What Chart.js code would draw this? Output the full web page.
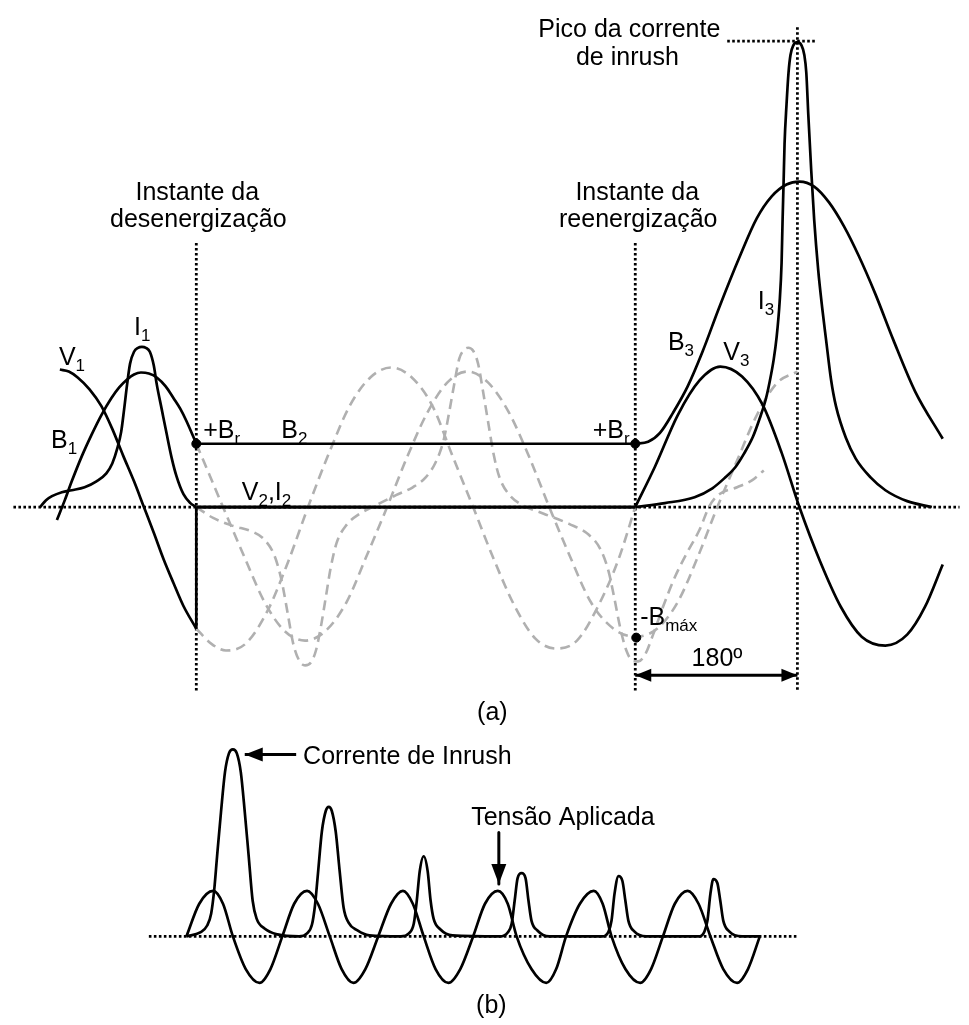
<!DOCTYPE html>
<html>
<head>
<meta charset="utf-8">
<script src="https://cdn.jsdelivr.net/npm/chart.js@4.4.1/dist/chart.umd.min.js"></script>
<style>
  html, body { margin: 0; padding: 0; background: #fff; }
  #wrap { width: 969px; height: 1025px; }
</style>
</head>
<body>
<div id="wrap"><canvas id="inrush" width="969" height="1025"></canvas></div>
<script>
/* ---------------------------------------------------------
   Inrush current sketch: (a) de/re-energization, (b) decay
   Every curve is a list of [x, y] points
   (x to the right, y downward, same units as the drawing).
--------------------------------------------------------- */

/* ---- (a) before de-energization ---- */
const v1 = [[55,368],[64,370],[73,376],[85,388],[97,405],[108,428],[119,455],[130,481],[140,507],
            [150,533],[160,560],[170,584],[180,607],[193,630]];
const b1 = [[52,520],[60,500],[67,481],[77,456],[87,434],[97,414],[107,397],[115,386],[123,378],
            [130,373],[137,371],[145,372],[153,376],[162,385],[170,397],[177,408],[183,420],[193,443]];
const i1 = [[35,507],[41,500],[47,496],[57,492],[67,490],[80,487],[92,481],[102,473],[108,463],
            [113,448],[117,431],[120,408],[123,383],[126,362],[130,350],[134,346],[138,345],[142,346],
            [146,350],[150,364],[153,383],[158,408],[163,433],[168,457],[173,476],[180,494],[187,503],[193,507]];

/* ---- (a) de-energized interval: B2 held at +Br, V2 = I2 = 0 ---- */
const b2   = [[193,443],[637,443]];
const v2i2 = [[193,507],[637,507]];
const vDrop = [[193,630],[193,507]];

/* ---- (a) what the supply would have kept doing (grey dashes) ---- */
const vDash = [[193,630],[208,645],[223,652],[243,645],[265,612],[286,562],[306,507],[327,453],
               [348,405],[369,376],[390,366],[411,376],[432,405],[452,455],[473,507],[494,560],
               [515,607],[536,640],[557,650],[578,642],[599,608],[620,560],[637,507]];
const bDash = [[193,443],[207,476],[220,507],[241,556],[262,603],[282,632],[303,642],[324,632],
               [345,603],[365,557],[386,507],[406,457],[427,411],[447,381],[467,370],[488,381],
               [509,411],[530,457],[550,507],[571,557],[592,603],[615,630],[637,638],[659,630],
               [680,603],[700,558],[720,507],[740,460],[760,414],[780,382],[801,370]];
const iDash = [[193,507],[210,518],[230,526],[250,532],[262,540],[272,556],[279,580],[285,612],
               [291,645],[297,662],[303,667],[309,664],[314,652],[319,628],[324,598],[329,568],
               [335,543],[345,525],[358,514],[375,505],[395,495],[412,487],[425,477],[435,462],
               [443,440],[449,410],[454,382],[459,357],[464,348],[468,346],[473,349],[478,362],
               [483,390],[488,420],[494,455],[500,478],[510,495],[523,505],[545,514],[570,524],
               [590,535],[602,550],[610,572],[616,600],[622,630],[628,652],[634,662],[640,663],
               [647,656],[655,636],[665,608],[677,578],[690,552],[702,530],[712,506],[722,494],
               [740,487],[755,480],[767,470]];

/* ---- (a) re-energization ---- */
const v3 = [[637,507],[657,466],[680,414],[702,379],[723,365],[745,375],[766,404],[785,452],
            [803,507],[824,562],[845,608],[866,638],[890,647],[912,636],[930,608],[948,565]];
const b3 = [[637,443],[650,441],[662,432],[675,412],[690,385],[705,350],[722,305],[743,253],
            [760,215],[775,193],[790,181],[803,178],[818,183],[833,199],[848,223],[863,253],
            [880,292],[898,338],[920,390],[948,438]];
const i3 = [[637,507],[667,503],[697,497],[715,488],[727,478],[738,467],[747,453],[756,436],
            [763,417],[769,398],[773,380],[777,358],[780,335],[783,300],[785,260],[786,217],
            [787,180],[788,140],[790,100],[792,68],[794,50],[797,40],[801,37],[805,40],[808,50],
            [810,68],[812,110],[815,167],[818,217],[822,267],[826,305],[830,338],[835,378],
            [840,405],[850,437],[860,458],[875,477],[890,490],[912,501],[937,507]];

/* ---- (a) marked points: +Br, +Br, -Bmax ---- */
const marks = [[193,443],[637,443],[638,639]];

/* ---- (a) guides ---- */
const zeroA     = [[8,507],[965,507]];
const offLine   = [[193,240],[193,693]];
const onLine    = [[637,240],[637,693]];
const peakLine  = [[801,22],[801,693]];
const peakLevel = [[730,36],[820,36]];
const arrow180  = [[637,677],[801,677]];

/* ---- (b) several cycles after switching ---- */
const vApplied = [[183,941],[196,908],[210,895],[220,908],[230,941],[243,974],[257,988],[268,974],
                  [280,941],[292,908],[305,895],[316,908],[328,941],[340,974],[352,988],[364,974],
                  [377,941],[390,908],[402,895],[412,908],[423,941],[435,974],[448,988],[460,974],
                  [473,941],[485,908],[498,895],[508,908],[517,941],[532,974],[547,988],[557,974],
                  [567,941],[581,908],[595,895],[604,908],[613,941],[627,974],[642,988],[653,974],
                  [665,941],[677,908],[690,895],[701,908],[713,941],[726,974],[740,988],[751,974],[763,941]];
const iInrush = [[183,941],[197,937],[204,930],[208,918],[211,895],[214,860],[218,815],[222,775],
                 [226,756],[230,752],[234,756],[238,775],[242,815],[246,860],[250,905],[254,923],
                 [262,933],[275,939],[297,941],[305,938],[310,929],[313,910],[316,878],[320,835],
                 [324,814],[327,810],[330,814],[334,835],[338,875],[342,912],[347,927],[356,935],
                 [368,940],[400,941],[408,938],[413,928],[416,905],[419,875],[423,860],[427,875],
                 [430,905],[433,923],[440,934],[452,940],[500,941],[508,937],[512,928],[515,905],
                 [518,882],[522,877],[526,882],[529,905],[532,925],[538,935],[550,941],[604,941],
                 [610,936],[613,925],[616,898],[620,880],[624,885],[627,905],[630,925],[636,936],
                 [648,941],[702,941],[707,936],[710,925],[713,898],[716,883],[720,887],[723,905],
                 [726,925],[732,936],[745,941],[763,941]];
const zeroB       = [[145,941],[800,941]];
const arrowInrush = [[294,757],[242,757]];
const arrowTensao = [[499,836],[499,888]];

/* ---------------------------------------------------------
   Styles
--------------------------------------------------------- */
const INK  = '#000';
const GREY = '#b0b0b0';
const FONT = '25px "Liberation Sans", Arial, sans-serif';
const SUB  = '17px "Liberation Sans", Arial, sans-serif';

function pts(list) { return list.map(([x, y]) => ({ x, y })); }

function curve(list, extra) {
  return Object.assign({
    data: pts(list),
    borderColor: INK,
    borderWidth: 2.7,
    borderJoinStyle: 'round',
    pointRadius: 0,
    fill: false,
    cubicInterpolationMode: 'monotone',
    order: 2,
  }, extra);
}
function straight(list, extra) {
  return curve(list, Object.assign({ cubicInterpolationMode: 'default', tension: 0 }, extra));
}
const dotted = { borderDash: [2.6, 2.4], borderWidth: 2.8, borderCapStyle: 'butt', order: 6 };
const dashed = { borderColor: GREY, borderDash: [10, 6], borderWidth: 2.6, order: 5 };

/* ---------------------------------------------------------
   Text + arrowheads
--------------------------------------------------------- */
// [parts, x, baseline, align]  parts: [text, isSubscript]
const texts = [
  [[['I'], ['1', 1]], 130, 333],
  [[['V'], ['1', 1]], 54, 363],
  [[['B'], ['1', 1]], 46, 447],
  [[['+B'], ['r', 1]], 200, 437],
  [[['B'], ['2', 1]], 279, 437],
  [[['+B'], ['r', 1]], 594, 437],
  [[['V'], ['2', 1], [','], ['I'], ['2', 1]], 239, 500],
  [[['B'], ['3', 1]], 670, 348],
  [[['V'], ['3', 1]], 726, 358],
  [[['I'], ['3', 1]], 761, 307],
  [[['-B'], ['máx', 1]], 642, 626],
  [[['180º']], 694, 668],
  [[['(a)']], 477, 722],
  [[['Pico da corrente']], 631, 32, 'center'],
  [[['de inrush']], 629, 60, 'center'],
  [[['Instante da']], 194, 197, 'center'],
  [[['desenergização']], 195, 224, 'center'],
  [[['Instante da']], 639, 197, 'center'],
  [[['reenergização']], 640, 224, 'center'],
  [[['Corrente de Inrush']], 301, 767],
  [[['Tensão Aplicada']], 471, 828],
  [[['(b)']], 476, 1018],
];
// [line, head at start?, head at end?, length, half width]
const arrows = [
  [arrow180, true, true, 16, 6.5],
  [arrowInrush, false, true, 18, 7],
  [arrowTensao, false, true, 20, 7.5],
];

const annotate = {
  id: 'annotate',
  afterDatasetsDraw(chart) {
    const { ctx, scales: { x, y } } = chart;
    const px = v => x.getPixelForValue(v);
    const py = v => y.getPixelForValue(v);
    ctx.save();
    ctx.fillStyle = INK;

    arrows.forEach(([line, atStart, atEnd, len, half]) => {
      const a = [px(line[0][0]), py(line[0][1])];
      const b = [px(line[1][0]), py(line[1][1])];
      const head = (tip, from) => {
        const ang = Math.atan2(tip[1] - from[1], tip[0] - from[0]);
        const c = Math.cos(ang), s = Math.sin(ang);
        ctx.beginPath();
        ctx.moveTo(tip[0], tip[1]);
        ctx.lineTo(tip[0] - len * c - half * s, tip[1] - len * s + half * c);
        ctx.lineTo(tip[0] - len * c + half * s, tip[1] - len * s - half * c);
        ctx.closePath();
        ctx.fill();
      };
      if (atStart) head(a, b);
      if (atEnd) head(b, a);
    });

    ctx.textBaseline = 'alphabetic';
    ctx.textAlign = 'left';
    texts.forEach(([parts, tx, ty, align]) => {
      let w = 0;
      parts.forEach(([t, sub]) => { ctx.font = sub ? SUB : FONT; w += ctx.measureText(t).width; });
      let cx = px(tx) - (align === 'center' ? w / 2 : 0);
      parts.forEach(([t, sub]) => {
        ctx.font = sub ? SUB : FONT;
        ctx.fillText(t, cx, py(ty) + (sub ? 6 : 0));
        cx += ctx.measureText(t).width;
      });
    });
    ctx.restore();
  }
};

/* ---------------------------------------------------------
   Chart
--------------------------------------------------------- */
new Chart(document.getElementById('inrush'), {
  type: 'line',
  data: {
    datasets: [
      // guides
      straight(zeroA, dotted),
      straight(offLine, dotted),
      straight(onLine, dotted),
      straight(peakLine, dotted),
      straight(peakLevel, dotted),
      straight(zeroB, dotted),
      // dashed continuations
      curve(vDash, dashed),
      curve(bDash, dashed),
      curve(iDash, dashed),
      // solid waveforms
      curve(v1), curve(b1), curve(i1),
      straight(b2),
      straight(v2i2, { borderWidth: 3.2 }),
      straight(vDrop),
      curve(v3), curve(b3), curve(i3),
      curve(vApplied), curve(iInrush),
      // arrow shafts
      straight(arrow180, { borderWidth: 3 }),
      straight(arrowInrush, { borderWidth: 3 }),
      straight(arrowTensao, { borderWidth: 3 }),
      // +Br / -Bmax dots
      {
        data: pts(marks), showLine: false, pointRadius: 4.5, pointHoverRadius: 4.5,
        pointBackgroundColor: INK, pointBorderColor: INK, order: 0,
      },
    ]
  },
  options: {
    responsive: false,
    devicePixelRatio: 1,
    animation: false,
    events: [],
    layout: { padding: 0 },
    plugins: { legend: { display: false }, tooltip: { enabled: false } },
    scales: {
      x: { type: 'linear', min: 0, max: 969, display: false },
      y: { type: 'linear', min: 0, max: 1025, reverse: true, display: false },
    }
  },
  plugins: [annotate]
});
</script>
</body>
</html>
